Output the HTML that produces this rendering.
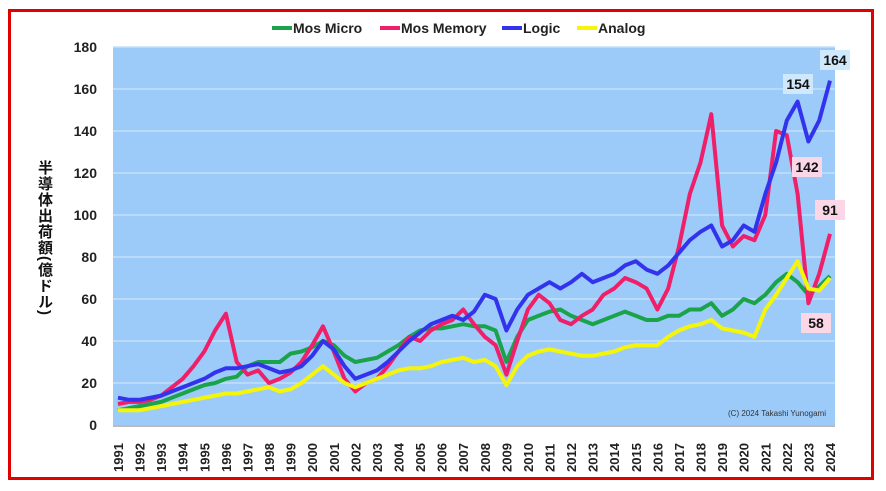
<!DOCTYPE html>
<html><head><meta charset="utf-8"><style>
body{margin:0;background:#fff;width:886px;height:491px;overflow:hidden;font-family:"Liberation Sans",sans-serif}
#frame{position:absolute;left:8px;top:9px;width:866px;height:471px;border:3px solid #e00000;box-sizing:border-box}
#ytitle{position:absolute;left:34px;top:160px;writing-mode:vertical-rl;font:bold 15px "Liberation Sans","Noto Sans CJK JP",sans-serif;letter-spacing:1px;color:#111}
</style></head><body>
<div id="frame"></div>
<div id="ytitle">半導体出荷額(億ドル)</div>
<svg id="chart" width="886" height="491" style="position:absolute;left:0;top:0"></svg>
<script>
const years=[];for(let y=1991;y<=2024;y++)years.push(String(y));
const yTicks=[0,20,40,60,80,100,120,140,160,180];
const seriesNames=["Mos Micro","Mos Memory","Logic","Analog"];
const micro=[7,8,9,10,11,13,15,17,19,20,22,23,28,30,30,30,34,35,37,40,38,33,30,31,32,35,38,42,45,46,46,47,48,47,47,45,30,42,50,52,54,55,52,50,48,50,52,54,52,50,50,52,52,55,55,58,52,55,60,58,62,68,72,68,62,66,71];
const memory=[10,11,11,12,14,18,22,28,35,45,53,30,24,26,20,22,25,30,38,47,35,22,16,20,22,28,35,42,40,45,48,50,55,48,42,38,24,40,55,62,58,50,48,52,55,62,65,70,68,65,55,65,85,110,125,148,95,85,90,88,100,140,138,110,58,72,91];
const logic=[13,12,12,13,14,16,18,20,22,25,27,27,28,29,27,25,26,28,33,40,36,28,22,24,26,30,35,40,44,48,50,52,50,54,62,60,45,55,62,65,68,65,68,72,68,70,72,76,78,74,72,76,82,88,92,95,85,88,95,92,110,125,145,154,135,145,164];
const analog=[7,7,7,8,9,10,11,12,13,14,15,15,16,17,18,16,17,20,24,28,24,20,18,20,22,24,26,27,27,28,30,31,32,30,31,28,19,28,33,35,36,35,34,33,33,34,35,37,38,38,38,42,45,47,48,50,46,45,44,42,55,62,70,78,65,64,70];
const calloutVals=[164,154,142,91,58];
const NS="http://www.w3.org/2000/svg";
const svg=document.getElementById('chart');
const L=113,R=835,T=47,B=425;
const xs=t=>118+(t-1991)*(830-118)/33;
const ys=v=>B-(v/180)*(B-T);
function mk(tag,at,par){const e=document.createElementNS(NS,tag);for(const k in at)e.setAttribute(k,at[k]);(par||svg).appendChild(e);return e;}
let e=mk('rect',{x:L,y:T,width:R-L,height:B-T,fill:'#9ccbfa'});

yTicks.forEach(v=>{
 if(v>0){const g=mk('line',{x1:L,x2:R,y1:ys(v),y2:ys(v),stroke:'#c4dffa','stroke-width':1.5});
 }
 const t=mk('text',{x:97,y:ys(v)+5,'text-anchor':'end','font-size':14,'font-weight':'bold',fill:'#222'});t.textContent=v;
 
});
e=mk('line',{x1:L,x2:R,y1:B+1,y2:B+1,stroke:'#bbb','stroke-width':2});

years.forEach((y,i)=>{
 const x=xs(1991+i);
 const t=mk('text',{x:0,y:0,transform:`translate(${x+5},472) rotate(-90)`,'font-size':13,'font-weight':'bold',fill:'#222'});t.textContent=y;
 
});
const cols=['#1ba34a','#ef1f6a','#3333ee','#f5f50a'];
[micro,memory,logic,analog].forEach((d,si)=>{
 const pts=d.map((v,i)=>xs(1991+i*0.5).toFixed(1)+','+ys(v).toFixed(1)).join(' ');
 const p=mk('polyline',{points:pts,fill:'none',stroke:cols[si],'stroke-width':4,'stroke-linejoin':'round'});
 
 
});
// legend
const lx=[272,380,502,577];
seriesNames.forEach((n,i)=>{
 const l=mk('line',{x1:lx[i],x2:lx[i]+20,y1:28,y2:28,stroke:cols[i],'stroke-width':4});
 
 const t=mk('text',{x:lx[i]+21,y:33,'font-size':14,'font-weight':'bold',fill:'#222'});t.textContent=n;
 
});
// callouts
const cpos=[[835,60,'#cfe8fb'],[798,84,'#cfe8fb'],[807,167,'#fbd6e6'],[830,210,'#fbd6e6'],[816,323,'#fbd6e6']];
calloutVals.forEach((v,i)=>{
 const [cx,cy,bg]=cpos[i];
 const r=mk('rect',{x:cx-15,y:cy-10,width:30,height:20,fill:bg});
 
 const t=mk('text',{x:cx,y:cy+5,'text-anchor':'middle','font-size':14,'font-weight':'bold',fill:'#111'});t.textContent=v;
 
});
e=mk('text',{x:826,y:416,'text-anchor':'end','font-size':8,fill:'#333'});e.textContent='(C) 2024 Takashi Yunogami';

</script>
</body></html>
